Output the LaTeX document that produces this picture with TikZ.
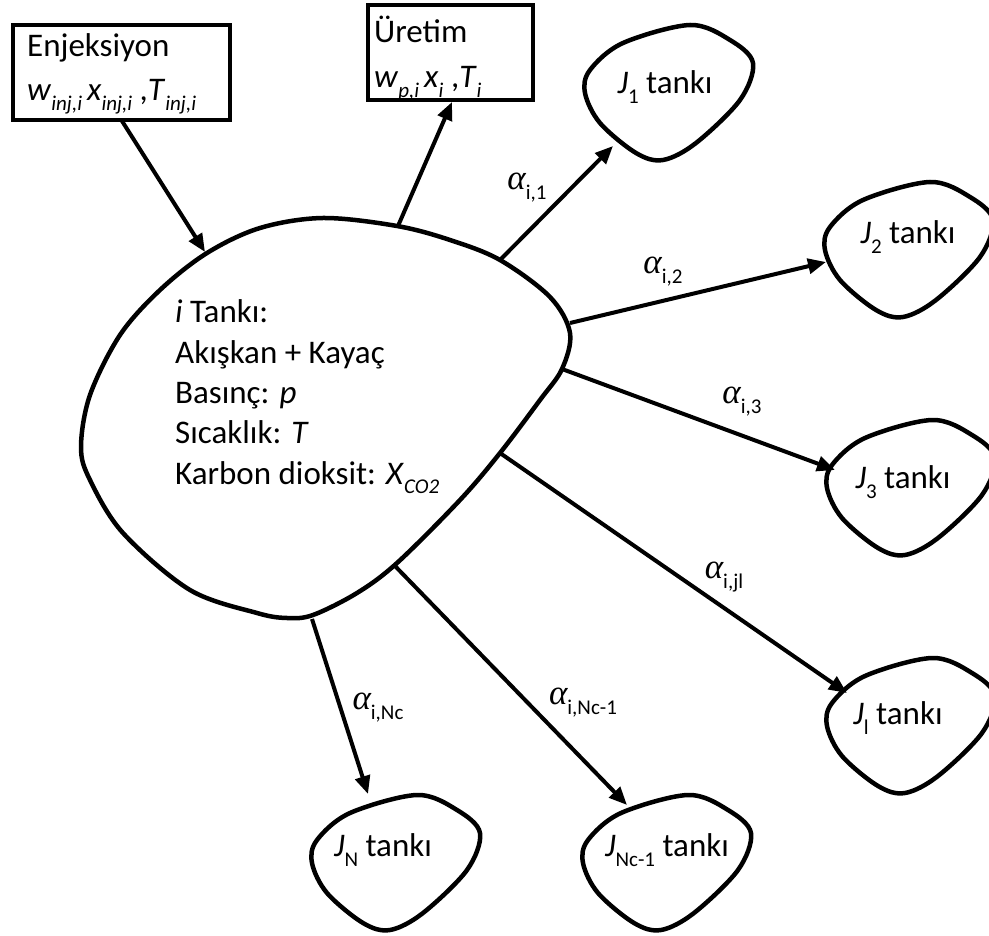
\documentclass[tikz,border=0pt]{standalone}
\usepackage{fontspec}
\setmainfont{Carlito}
\newfontfamily\grk{Liberation Serif}
\usetikzlibrary{arrows.meta}
\newcommand\fsmain{\fontsize{33}{40}\selectfont}
\newcommand\ssub[1]{\raisebox{-0.3em}{\fontsize{21}{21}\selectfont #1}}
\newcommand\alf[1]{{\fontsize{35}{35}\selectfont\grk\itshape α}\ssub{#1}}
\newcommand\tankshape[2]{\draw[blob, shift={(#1,#2)}] plot[smooth cycle, tension=0.55] coordinates {(38,18) (105,0) (145,15) (168,38) (155,75) (111,118) (78,135) (51,128) (15,98) (0,68) (5,45)};}
\tikzset{
  blob/.style={line width=4.5pt, line join=round},
  boxst/.style={draw, line width=4.5pt},
  arr/.style={line width=4pt, -{Triangle[length=18pt,width=15pt]}},
  txt/.style={anchor=base west, inner sep=0pt, font=\fsmain},
  lbl/.style={inner sep=0pt, font=\fsmain},
}
\begin{document}
\begin{tikzpicture}[x=1pt,y=-1pt]
\useasboundingbox (0,0) rectangle (989,936);
% boxes
\draw[boxst] (13,25) rectangle (230,120);
\draw[boxst] (368,5) rectangle (533,100);
\node[txt] (enj) at (27,57) {Enjeksiyon};
\node[txt] (enjv) at (27,101) {\textit{w}\ssub{\textit{inj,i}}\hspace{5pt}\textit{x}\ssub{\textit{inj,i}} ,\textit{T}\ssub{\textit{inj,i}}};
\node[txt] (ure) at (374,43) {Üretim};
\node[txt] (urev) at (374,88) {\textit{w}\ssub{\textit{p,i}}\hspace{5pt}\textit{x}\ssub{\textit{i}} ,\textit{T}\ssub{\textit{i}}};
% main blob
\draw[blob] plot[smooth cycle, tension=0.55] coordinates {(323,218) (397,226) (450,240) (500,260) (550,297) (570,333) (562,369) (540,400) (500,453) (460,500) (397,563) (357,593) (313,615) (287,618) (257,613) (190,590) (123,533) (90,480) (81,447) (90,395) (120,335) (160,290) (207,253) (260,228)};
\node[txt] (m1) at (175,323) {\textit{i} Tankı:};
\node[txt] (m2) at (175,363) {Akışkan + Kayaç};
\node[txt] (m3) at (175,403) {Basınç: \textit{p}};
\node[txt] (m4) at (175,443) {Sıcaklık: \textit{T}};
\node[txt] (m5) at (175,484) {Karbon dioksit: \textit{X}\ssub{\textit{CO2}}};
% tanks
\tankshape{585}{25}
\tankshape{825}{182}
\tankshape{827}{420}
\tankshape{827}{658}
\tankshape{312}{795}
\tankshape{583}{795}
\node[lbl] (j1) at (665,87) {\textit{J}\ssub{1} tankı};
\node[lbl] (j2) at (908,237) {\textit{J}\ssub{2} tankı};
\node[lbl] (j3) at (903,482) {\textit{J}\ssub{3} tankı};
\node[lbl] (jl) at (898,718) {\textit{J}\ssub{l} tankı};
\node[lbl] (jn) at (383,850) {\textit{J}\ssub{N} tankı};
\node[lbl] (jnc) at (667,850) {\textit{J}\ssub{Nc-1} tankı};
% connector end points
\coordinate (injA) at (122,121);
\coordinate (injB) at (205,252);
\coordinate (prA) at (398,226);
\coordinate (prB) at (452,102);
\coordinate (s1) at (500,260);
\coordinate (e1) at (613,146);
\coordinate (s2) at (570,323);
\coordinate (e2) at (826,262);
\coordinate (s3) at (562,369);
\coordinate (e3) at (835,470);
\coordinate (sl) at (500,453);
\coordinate (el) at (847,693);
\coordinate (sn) at (312,619);
\coordinate (en) at (368,794);
\coordinate (snc) at (395,566);
\coordinate (enc) at (627,805);
\draw[arr] (injA) -- (injB);
\draw[arr] (prA) -- (prB);
\draw[arr] (s1) -- (e1);
\draw[arr] (s2) -- (e2);
\draw[arr] (s3) -- (e3);
\draw[arr] (sl) -- (el);
\draw[arr] (sn) -- (en);
\draw[arr] (snc) -- (enc);
% labels
\node[lbl] (a1) at (527,188) {\alf{i,1}};
\node[lbl] (a2) at (663,272) {\alf{i,2}};
\node[lbl] (a3) at (742,402) {\alf{i,3}};
\node[lbl] (al) at (724,577) {\alf{i,jl}};
\node[lbl] (an) at (378,708) {\alf{i,Nc}};
\node[lbl] (anc) at (583,703) {\alf{i,Nc-1}};
\end{tikzpicture}
\end{document}
